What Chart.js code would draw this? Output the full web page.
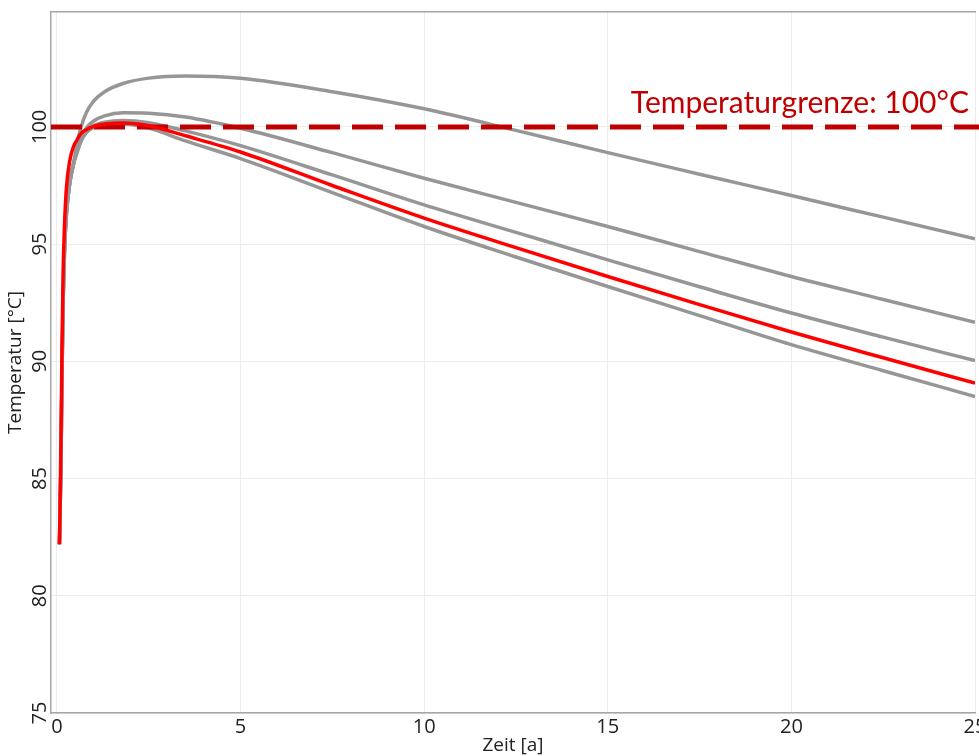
<!DOCTYPE html>
<html>
<head>
<meta charset="utf-8">
<script src="https://cdn.jsdelivr.net/npm/chart.js@4.4.1/dist/chart.umd.min.js"></script>
<style>
    html, body { margin: 0; padding: 0; background: #fff; overflow: hidden; }
    #wrap { width: 1000px; height: 756px; }
</style>
</head>
<body>
<div id="wrap"><canvas id="tempChart" width="1000" height="756"></canvas></div>
<script>
// Zeitpunkte in Jahren
const zeit = [0.07, 0.11, 0.14, 0.17, 0.21, 0.26, 0.35, 0.45, 0.55, 0.65, 0.8, 1.0, 1.3, 1.8, 2.5, 3.5,
    5, 7.5, 10, 12.5, 15, 17.5, 20, 22.5, 25];

// Temperaturverläufe [°C]
const tempRot = [82.2, 86.4, 90.6, 93.8, 95.9, 97.4, 98.55, 99.15, 99.45, 99.7, 99.88, 100.02, 100.12, 100.17, 100.05, 99.62,
    98.93, 97.5, 96.11, 94.85, 93.62, 92.42, 91.25, 90.15, 89.07];
const tempGrau1 = [82.2, 85.5, 89.5, 92.5, 94.8, 96.3, 97.6, 98.4, 99.3, 99.95, 100.6, 101.1, 101.5, 101.85, 102.08, 102.17,
    102.07, 101.5, 100.77, 99.85, 98.9, 97.98, 97.07, 96.15, 95.23];
const tempGrau2 = [82.2, 85.5, 89.5, 92.5, 94.8, 96.3, 97.6, 98.4, 99.0, 99.5, 99.95, 100.25, 100.47, 100.6, 100.58, 100.42,
    99.94, 98.9, 97.81, 96.78, 95.75, 94.68, 93.62, 92.64, 91.66];
const tempGrau3 = [82.2, 85.5, 89.5, 92.5, 94.8, 96.3, 97.6, 98.4, 98.95, 99.4, 99.8, 100.05, 100.2, 100.27, 100.18, 99.83,
    99.2, 97.95, 96.67, 95.5, 94.33, 93.18, 92.06, 91.03, 90.03];
const tempGrau4 = [82.2, 85.5, 89.5, 92.5, 94.8, 96.3, 97.6, 98.4, 98.9, 99.35, 99.75, 99.98, 100.08, 100.12, 99.95, 99.4,
    98.65, 97.2, 95.75, 94.45, 93.19, 91.95, 90.71, 89.6, 88.5];

// Grenzwert
const grenzeZeit = [-0.16, 25.15];
const grenzeWert = 100;

const xTicks = [0, 5, 10, 15, 20, 25];
const yTicks = [75, 80, 85, 90, 95, 100];

const toPoints = (vals) => zeit.map((t, i) => ({ x: t, y: vals[i] }));

const grau = 'rgb(150,150,150)';
const grauLine = (vals) => ({
    data: toPoints(vals),
    borderColor: grau,
    borderWidth: 3.5,
    pointRadius: 0,
    showLine: true,
    cubicInterpolationMode: 'monotone',
    order: 2
});

const grenzeLabel = {
    id: 'grenzeLabel',
    afterDatasetsDraw(chart) {
        const c = chart.ctx;
        const y = chart.scales.y.getPixelForValue(grenzeWert);
        c.save();
        c.font = '30px Lato, "Open Sans", sans-serif';
        c.fillStyle = '#c00000';
        c.textAlign = 'right';
        c.textBaseline = 'alphabetic';
        c.fillText('Temperaturgrenze: 100°C', 969, y - 14);
        c.restore();
    }
};

const tickFont = { family: '"Open Sans", sans-serif', size: 20 };
const titleFont = { family: '"Open Sans", sans-serif', size: 19 };
const axisGrey = '#a6a6a6';

new Chart(document.getElementById('tempChart'), {
    type: 'scatter',
    data: {
        datasets: [
            {
                data: toPoints(tempRot),
                borderColor: '#ff0000',
                borderWidth: 3.5,
                pointRadius: 0,
                showLine: true,
                cubicInterpolationMode: 'monotone',
                order: 0
            },
            {
                data: grenzeZeit.map(t => ({ x: t, y: grenzeWert })),
                borderColor: '#c00000',
                borderWidth: 5,
                borderDash: [31, 12],
                pointRadius: 0,
                showLine: true,
                clip: false,
                order: 1
            },
            grauLine(tempGrau1),
            grauLine(tempGrau2),
            grauLine(tempGrau3),
            grauLine(tempGrau4)
        ]
    },
    options: {
        responsive: false,
        animation: false,
        layout: { padding: { top: 12, right: 25, left: 0, bottom: 0 } },
        plugins: {
            legend: { display: false },
            tooltip: { enabled: false }
        },
        scales: {
            x: {
                type: 'linear',
                min: -0.16,
                max: 25,
                afterBuildTicks: (s) => { s.ticks = xTicks.map(v => ({ value: v })); },
                afterFit: (s) => { s.height = 43; },
                ticks: { font: tickFont, color: '#222', padding: 2, maxRotation: 0 },
                grid: { color: '#ececec', drawTicks: false },
                border: { color: axisGrey, width: 1.5 },
                title: {
                    display: true,
                    text: 'Zeit [a]',
                    font: titleFont,
                    color: '#222',
                    padding: { top: 0, bottom: -1 }
                }
            },
            xTop: {
                type: 'linear',
                position: 'top',
                min: -0.16,
                max: 25,
                ticks: { display: false },
                grid: { display: false, drawTicks: false },
                border: { color: axisGrey, width: 1.5 }
            },
            y: {
                min: 75,
                max: 104.9,
                afterBuildTicks: (s) => { s.ticks = yTicks.map(v => ({ value: v })); },
                afterFit: (s) => { s.width = 51; },
                ticks: {
                    font: tickFont,
                    color: '#222',
                    minRotation: 90,
                    maxRotation: 90,
                    crossAlign: 'center',
                    padding: -6
                },
                grid: { color: '#ececec', drawTicks: false },
                border: { color: axisGrey, width: 1.5 },
                title: {
                    display: true,
                    text: 'Temperatur [°C]',
                    font: titleFont,
                    color: '#222',
                    padding: { top: 4, bottom: 0 }
                }
            }
        }
    },
    plugins: [grenzeLabel]
});
</script>
</body>
</html>
